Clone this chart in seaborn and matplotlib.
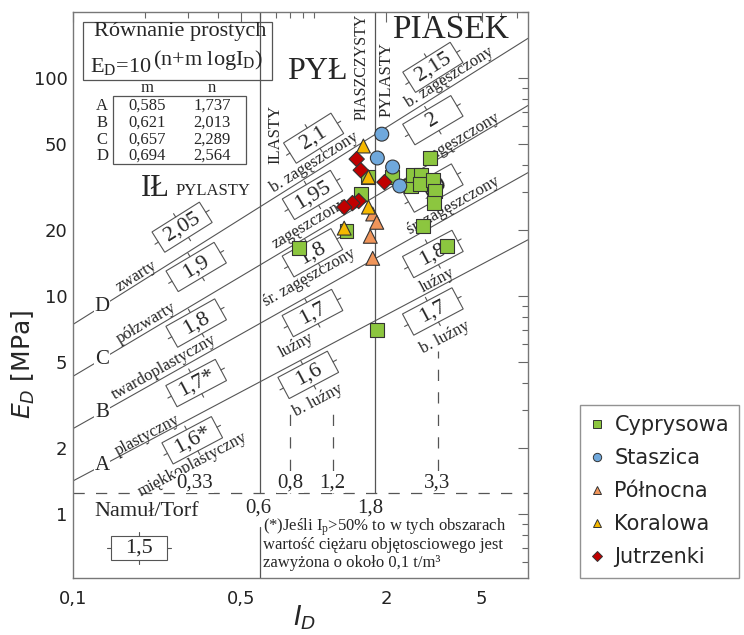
import numpy as np
import pandas as pd
import matplotlib
matplotlib.use("Agg")
import matplotlib.pyplot as plt
import matplotlib.ticker as mtick
from matplotlib.lines import Line2D
from matplotlib.markers import MarkerStyle
from matplotlib.patches import Rectangle
from matplotlib.transforms import Affine2D, ScaledTranslation
import seaborn as sns

# measurement points: I_D [-] and E_D [MPa]
cyprysowa_id = [0.87, 1.37, 1.57, 1.68, 2.11, 2.53, 2.58, 2.79, 2.76, 3.04, 3.13, 3.19, 3.16, 2.84, 3.58, 1.83]
cyprysowa_ed = [16.6, 19.9, 29.4, 35.2, 35.2, 32.0, 35.9, 35.9, 32.6, 43.0, 34.0, 30.3, 26.7, 20.9, 16.9, 7.0]
staszica_id = [1.92, 1.84, 2.13, 2.28]
staszica_ed = [55.3, 43.0, 39.1, 32.0]
polnocna_id = [1.76, 1.83, 1.72, 1.76]
polnocna_ed = [23.8, 21.8, 18.8, 14.9]
koralowa_id = [1.61, 1.69, 1.69, 1.34]
koralowa_ed = [48.8, 35.2, 25.6, 20.5]
jutrzenki_id = [1.51, 1.57, 1.97, 1.54, 1.45, 1.34]
jutrzenki_ed = [42.5, 37.8, 33.3, 27.3, 26.7, 25.6]

sites = ["Cyprysowa", "Staszica", "Północna", "Koralowa", "Jutrzenki"]
site_colors = {"Cyprysowa": "#8CC63F", "Staszica": "#6FA8DC", "Północna": "#F0955A",
               "Koralowa": "#F5B800", "Jutrzenki": "#C00000"}
site_markers = {"Cyprysowa": "s", "Staszica": "o", "Północna": "^", "Koralowa": "^",
                "Jutrzenki": MarkerStyle("D", transform=Affine2D().scale(0.78))}

# boundary lines  E_D = 10^(n + m log I_D)  (table of the nomogram)
line_names = ["A", "B", "C", "D"]
line_m = [0.585, 0.621, 0.657, 0.694]
line_n = [1.737, 2.013, 2.289, 2.564]

# vertical / horizontal boundaries
id_solid = [0.6, 1.8]
id_dashed = [0.8, 1.2, 3.3]
ed_peat = 1.25

frames = []
for name, xs, ys in zip(sites, [cyprysowa_id, staszica_id, polnocna_id, koralowa_id, jutrzenki_id],
                        [cyprysowa_ed, staszica_ed, polnocna_ed, koralowa_ed, jutrzenki_ed]):
    frames.append(pd.DataFrame({"I_D": xs, "E_D": ys, "site": name}))
df = pd.concat(frames, ignore_index=True)

sns.set_style("white")
plt.rcParams["font.family"] = ["DejaVu Sans"]
serif = "Liberation Serif"
gray = "#555555"

fig = plt.figure(figsize=(7.44, 6.35), dpi=100)
ax = fig.add_axes([73 / 744, 57 / 635, 455 / 744, 566 / 635])
ax.set_xscale("log")
ax.set_yscale("log")
xmin, xmax, ymin, ymax = 0.1, 7.78, 0.509, 201
ax.set_xlim(xmin, xmax)
ax.set_ylim(ymin, ymax)

# points
sns.scatterplot(data=df, x="I_D", y="E_D", hue="site", style="site", palette=site_colors,
                markers=site_markers, s=100, edgecolor="#333333", linewidth=0.8,
                legend=False, ax=ax, zorder=6)
ax.set_xlabel("")
ax.set_ylabel("")

# lines A-D
xx = np.array([xmin, xmax])
for k in range(4):
    yy = 10 ** (line_n[k] - 1 + line_m[k] * np.log10(xx))
    ax.plot(xx, yy, color=gray, lw=0.8, zorder=1)
    xl = 0.132
    ax.text(xl, 10 ** (line_n[k] - 1 + line_m[k] * np.log10(xl)), line_names[k], family=serif,
            fontsize=15, ha="center", va="center", zorder=2,
            bbox=dict(fc="white", ec="none", pad=0.5))

ax.axhline(ed_peat, color=gray, lw=0.9, ls=(0, (9, 9)), zorder=1)
ax.plot([id_solid[0]] * 2, [ed_peat, ymax], color=gray, lw=0.9, zorder=1)
ax.plot([id_solid[0]] * 2, [ymin, 0.87], color=gray, lw=0.9, zorder=1)
ax.plot([id_solid[1]] * 2, [ed_peat, ymax], color=gray, lw=0.9, zorder=1)
for xv, top in zip(id_dashed, [3.0, 3.0, 5.6]):
    ax.plot([xv, xv], [ed_peat, top], color=gray, lw=0.9, ls=(0, (9, 9)), zorder=1)


def line_angle(k):
    p0 = ax.transData.transform((1.0, 1.0))
    p1 = ax.transData.transform((10.0, 10 ** line_m[k]))
    return np.degrees(np.arctan2(p1[1] - p0[1], p1[0] - p0[0]))


def draw_box(x, y, label, angle, w=56, h=24):
    tr = Affine2D().rotate_deg(angle) + ScaledTranslation(x, y, ax.transData)
    ax.add_patch(Rectangle((-w / 2, -h / 2), w, h, transform=tr, fc="white", ec=gray, lw=0.8, zorder=3))
    for x0, y0, x1, y1 in [(0, h / 2, 0, h / 2 + 4), (0, -h / 2, 0, -h / 2 - 4),
                           (-w / 2, 0, -w / 2 - 4, 0), (w / 2, 0, w / 2 + 4, 0)]:
        ax.add_line(Line2D([x0, x1], [y0, y1], transform=tr, color=gray, lw=0.8, zorder=3))
    ax.text(x, y, label, rotation=angle, rotation_mode="anchor", ha="center", va="center",
            family=serif, fontsize=16, zorder=4)


# state labels along the lines
zone_labels = [
    ("zwarty", 0.183, 12.4, 3), ("półzwarty", 0.201, 7.52, 2), ("twardoplastyczny", 0.239, 4.72, 1),
    ("plastyczny", 0.203, 2.30, 0), ("miękkoplastyczny", 0.313, 1.68, 0),
    ("b. zagęszczony", 1.01, 41.0, 3), ("zagęszczony", 0.96, 21.4, 2), ("śr. zagęszczony", 0.96, 12.1, 1),
    ("luźny", 0.85, 5.96, 0), ("b. luźny", 1.04, 3.33, 0),
    ("b. zagęszczony", 3.68, 101, 3), ("zagęszczony", 4.17, 53.6, 2), ("śr. zagęszczony", 3.79, 25.9, 1),
    ("luźny", 3.28, 11.8, 0), ("b. luźny", 3.51, 6.49, 0),
]
for txt, x, y, k in zone_labels:
    ax.text(x, y, txt, rotation=line_angle(k), rotation_mode="anchor", ha="center", va="center",
            family=serif, fontsize=12, zorder=2)

# bulk density boxes
density_boxes = [
    ("2,05", 0.284, 20.7, 3), ("1,9", 0.325, 13.6, 2), ("1,8", 0.325, 7.52, 1),
    ("1,7*", 0.325, 3.99, 0), ("1,6*", 0.313, 2.18, 0),
    ("2,1", 1.0, 53.0, 3), ("1,95", 0.989, 29.1, 2), ("1,8", 0.989, 15.8, 1),
    ("1,7", 0.989, 8.36, 0), ("1,6", 0.95, 4.35, 0),
    ("2,15", 3.13, 112, 3), ("2", 3.13, 64.1, 2), ("1,9", 3.13, 31.3, 1),
    ("1,8", 3.13, 15.6, 0), ("1,7", 3.13, 8.5, 0),
]
for txt, x, y, k in density_boxes:
    draw_box(x, y, txt, line_angle(k))
draw_box(0.188, 0.70, "1,5", 0)

# texts in axes coordinates
T = ax.transAxes
ax.add_patch(Rectangle((0.022, 0.880), 0.415, 0.102, transform=T, fc="none", ec=gray, lw=0.9, zorder=2))
ax.text(0.235, 0.966, "Równanie prostych", transform=T, family=serif, fontsize=16, ha="center", va="center")
ax.text(0.037, 0.894, r"E$\mathregular{_D}$=10", transform=T, family=serif, fontsize=16, ha="left", va="baseline")
ax.text(0.176, 0.907, r"(n+m logI$\mathregular{_D}$)", transform=T, family=serif, fontsize=16,
        ha="left", va="baseline")
ax.add_patch(Rectangle((0.088, 0.731), 0.292, 0.121, transform=T, fc="none", ec=gray, lw=0.9, zorder=2))
ax.text(0.163, 0.866, "m", transform=T, family=serif, fontsize=12, ha="center", va="center")
ax.text(0.305, 0.866, "n", transform=T, family=serif, fontsize=12, ha="center", va="center")
for i, yy in enumerate([0.834, 0.804, 0.774, 0.746]):
    ax.text(0.064, yy, line_names[i], transform=T, family=serif, fontsize=12, ha="center", va="center")
    ax.text(0.163, yy, f"{line_m[i]:.3f}".replace(".", ","), transform=T, family=serif, fontsize=12,
            ha="center", va="center")
    ax.text(0.305, yy, f"{line_n[i]:.3f}".replace(".", ","), transform=T, family=serif, fontsize=12,
            ha="center", va="center")

ax.text(0.180, 0.688, "IŁ", transform=T, family=serif, fontsize=22, ha="center", va="center")
ax.text(0.308, 0.684, "PYLASTY", transform=T, family=serif, fontsize=12, ha="center", va="center")
ax.text(0.536, 0.894, "PYŁ", transform=T, family=serif, fontsize=23, ha="center", va="center")
ax.text(0.829, 0.968, "PIASEK", transform=T, family=serif, fontsize=24, ha="center", va="center")
ax.text(0.444, 0.783, "ILASTY", transform=T, family=serif, fontsize=12, rotation=90, ha="center", va="center")
ax.text(0.635, 0.904, "PIASZCZYSTY", transform=T, family=serif, fontsize=11.5, rotation=90, ha="center", va="center")
ax.text(0.688, 0.880, "PYLASTY", transform=T, family=serif, fontsize=12, rotation=90, ha="center", va="center")
ax.text(0.163, 0.117, "Namuł/Torf", transform=T, family=serif, fontsize=16, ha="center", va="center")
for txt, xa in [("0,33", 0.268), ("0,8", 0.477), ("1,2", 0.569), ("3,3", 0.800)]:
    ax.text(xa, 0.168, txt, transform=T, family=serif, fontsize=15, ha="center", va="center",
            bbox=dict(fc="white", ec="none", pad=0.3))
for txt, xa in [("0,6", 0.407), ("1,8", 0.653)]:
    ax.text(xa, 0.124, txt, transform=T, family=serif, fontsize=15, ha="center", va="center",
            bbox=dict(fc="white", ec="none", pad=0.3))
ax.text(0.417, 0.090, r"(*)Jeśli I$\mathregular{_p}$>50% to w tych obszarach", transform=T, family=serif,
        fontsize=12, ha="left", va="center")
ax.text(0.417, 0.058, "wartość ciężaru objętosciowego jest", transform=T, family=serif,
        fontsize=12, ha="left", va="center")
ax.text(0.417, 0.026, "zawyżona o około 0,1 t/m³", transform=T, family=serif,
        fontsize=12, ha="left", va="center")

# axes, ticks
comma = mtick.FuncFormatter(lambda v, _: f"{v:g}".replace(".", ","))
ax.xaxis.set_major_locator(mtick.FixedLocator([0.1, 0.5, 2, 5]))
ax.xaxis.set_minor_locator(mtick.LogLocator(base=10, subs=np.arange(1, 10), numticks=30))
ax.xaxis.set_major_formatter(comma)
ax.xaxis.set_minor_formatter(mtick.NullFormatter())
ax.yaxis.set_major_locator(mtick.FixedLocator([1, 2, 5, 10, 20, 50, 100]))
ax.yaxis.set_minor_locator(mtick.LogLocator(base=10, subs=np.arange(1, 10), numticks=30))
ax.yaxis.set_major_formatter(comma)
ax.yaxis.set_minor_formatter(mtick.NullFormatter())
ax.tick_params(which="both", direction="in", top=True, right=True, color="#666666",
               labelsize=13, labelcolor="#222222", width=0.8)
ax.tick_params(which="major", length=7)
ax.tick_params(which="minor", length=4)
ax.tick_params(axis="x", pad=9)
ax.tick_params(axis="y", pad=4)
for sp in ax.spines.values():
    sp.set_color("#777777")
    sp.set_linewidth(1.0)
ax.set_xlim(xmin, xmax)
ax.set_ylim(ymin, ymax)

fig.text(305 / 744, 1 - 604 / 635, r"$I_D$", fontsize=19, ha="center", va="top")
fig.text(23 / 744, 1 - 364 / 635, r"$E_D$ [MPa]", fontsize=18, rotation=90, ha="center", va="center")

handles = [Line2D([], [], ls="", marker=site_markers[s], mfc=site_colors[s], mec="#333333",
                  mew=0.7, ms=6, label=s) for s in sites]
leg = fig.legend(handles=handles, loc="upper left", bbox_to_anchor=(580 / 744, 1 - 405 / 635),
                 frameon=True, fancybox=False, edgecolor="#777777", fontsize=15, handlelength=0.6,
                 handletextpad=0.55, labelspacing=0.62, borderpad=0.5, borderaxespad=0)
leg.get_frame().set_linewidth(1.0)

fig.savefig("out.png", dpi=100)
